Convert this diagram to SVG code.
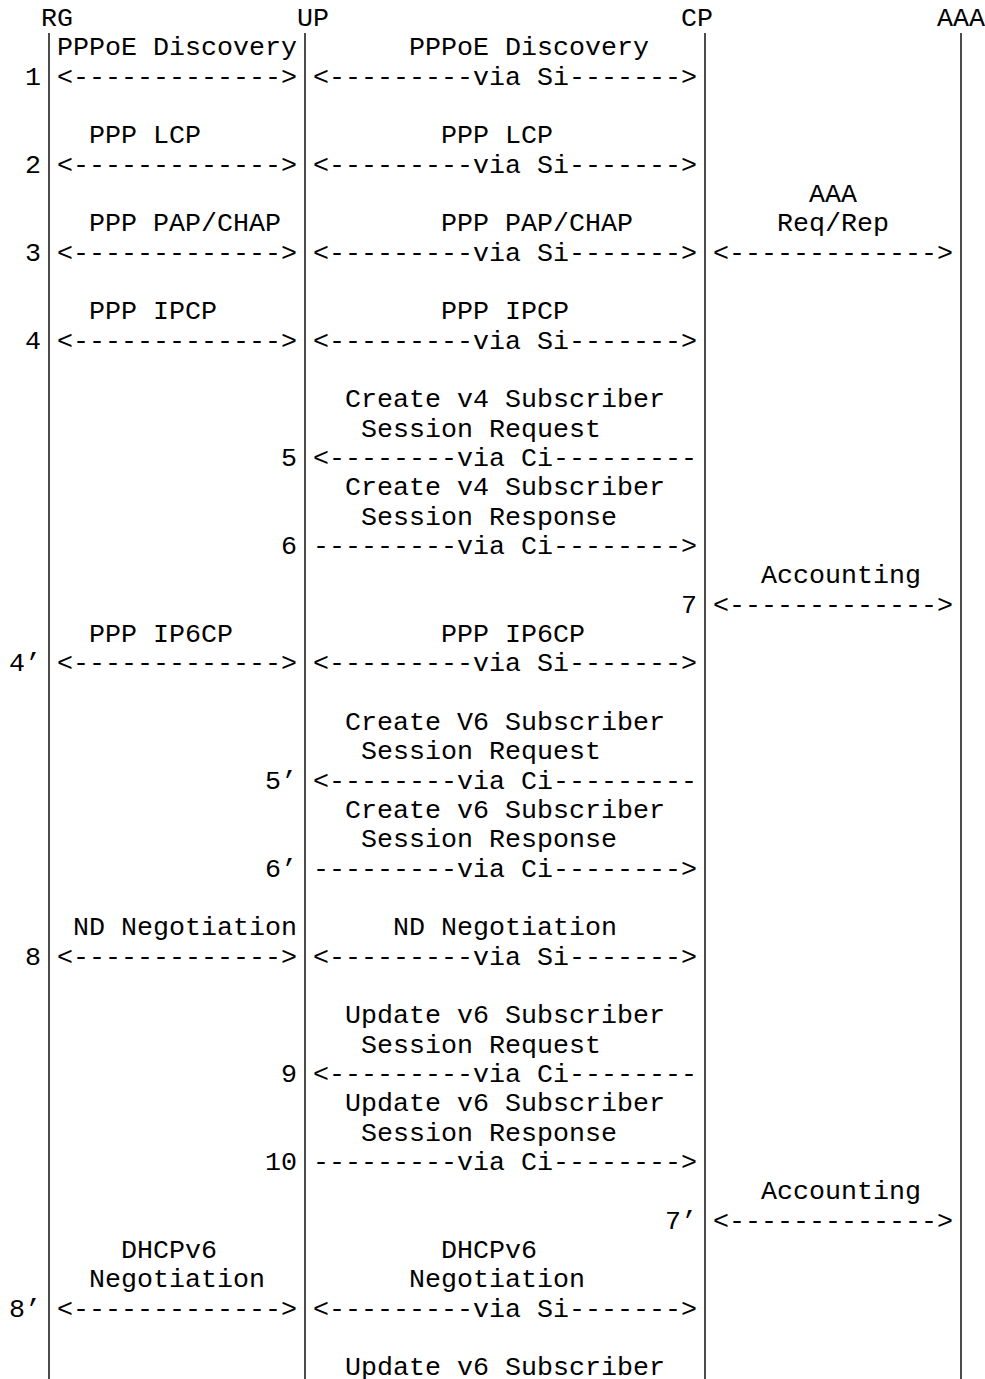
<svg xmlns="http://www.w3.org/2000/svg" width="985" height="1379" viewBox="0 0 985 1379" xml:space="preserve">
<style>
text { font-family: "Liberation Mono", "Courier New", monospace; font-size: 26.67px; fill: #000; white-space: pre; }
.life { stroke: #000; stroke-width: 1.4; fill: none; }
</style>
<rect x="0" y="0" width="985" height="1379" fill="#fff"/>
<g id="RG">
  <text x="41" y="26">RG</text>
  <line class="life" x1="49" y1="33" x2="49" y2="1379"/>
</g>
<g id="UP">
  <text x="297" y="26">UP</text>
  <line class="life" x1="305" y1="33" x2="305" y2="1379"/>
</g>
<g id="CP">
  <text x="681" y="26">CP</text>
  <line class="life" x1="705" y1="33" x2="705" y2="1379"/>
</g>
<g id="AAA">
  <text x="937" y="26">AAA</text>
  <line class="life" x1="961" y1="33" x2="961" y2="1379"/>
</g>
<g id="connectors">
  <text x="57" y="84.67">&lt;-------------&gt;</text>
  <text x="313" y="84.67">&lt;---------via Si-------&gt;</text>
  <text x="57" y="172.67">&lt;-------------&gt;</text>
  <text x="313" y="172.67">&lt;---------via Si-------&gt;</text>
  <text x="57" y="260.67">&lt;-------------&gt;</text>
  <text x="313" y="260.67">&lt;---------via Si-------&gt;</text>
  <text x="713" y="260.67">&lt;-------------&gt;</text>
  <text x="57" y="348.67">&lt;-------------&gt;</text>
  <text x="313" y="348.67">&lt;---------via Si-------&gt;</text>
  <text x="313" y="466">&lt;--------via Ci---------</text>
  <text x="313" y="554">---------via Ci--------&gt;</text>
  <text x="713" y="612.67">&lt;-------------&gt;</text>
  <text x="57" y="671.33">&lt;-------------&gt;</text>
  <text x="313" y="671.33">&lt;---------via Si-------&gt;</text>
  <text x="313" y="788.67">&lt;--------via Ci---------</text>
  <text x="313" y="876.67">---------via Ci--------&gt;</text>
  <text x="57" y="964.67">&lt;-------------&gt;</text>
  <text x="313" y="964.67">&lt;---------via Si-------&gt;</text>
  <text x="313" y="1082">&lt;---------via Ci--------</text>
  <text x="313" y="1170">---------via Ci--------&gt;</text>
  <text x="713" y="1228.67">&lt;-------------&gt;</text>
  <text x="57" y="1316.67">&lt;-------------&gt;</text>
  <text x="313" y="1316.67">&lt;---------via Si-------&gt;</text>
</g>
<g id="steps">
  <text x="25" y="84.67">1</text>
  <text x="25" y="172.67">2</text>
  <text x="25" y="260.67">3</text>
  <text x="25" y="348.67">4</text>
  <text x="281" y="466">5</text>
  <text x="281" y="554">6</text>
  <text x="681" y="612.67">7</text>
  <text x="9" y="671.33">4’</text>
  <text x="265" y="788.67">5’</text>
  <text x="265" y="876.67">6’</text>
  <text x="25" y="964.67">8</text>
  <text x="281" y="1082">9</text>
  <text x="265" y="1170">10</text>
  <text x="665" y="1228.67">7’</text>
  <text x="9" y="1316.67">8’</text>
</g>
<g id="labels">
  <text x="57" y="55.33">PPPoE Discovery</text>
  <text x="409" y="55.33">PPPoE Discovery</text>
  <text x="89" y="143.33">PPP LCP</text>
  <text x="441" y="143.33">PPP LCP</text>
  <text x="809" y="202">AAA</text>
  <text x="89" y="231.33">PPP PAP/CHAP</text>
  <text x="441" y="231.33">PPP PAP/CHAP</text>
  <text x="777" y="231.33">Req/Rep</text>
  <text x="89" y="319.33">PPP IPCP</text>
  <text x="441" y="319.33">PPP IPCP</text>
  <text x="345" y="407.33">Create v4 Subscriber</text>
  <text x="361" y="436.67">Session Request</text>
  <text x="345" y="495.33">Create v4 Subscriber</text>
  <text x="361" y="524.67">Session Response</text>
  <text x="761" y="583.33">Accounting</text>
  <text x="89" y="642">PPP IP6CP</text>
  <text x="441" y="642">PPP IP6CP</text>
  <text x="345" y="730">Create V6 Subscriber</text>
  <text x="361" y="759.33">Session Request</text>
  <text x="345" y="818">Create v6 Subscriber</text>
  <text x="361" y="847.33">Session Response</text>
  <text x="73" y="935.33">ND Negotiation</text>
  <text x="393" y="935.33">ND Negotiation</text>
  <text x="345" y="1023.33">Update v6 Subscriber</text>
  <text x="361" y="1052.67">Session Request</text>
  <text x="345" y="1111.33">Update v6 Subscriber</text>
  <text x="361" y="1140.67">Session Response</text>
  <text x="761" y="1199.33">Accounting</text>
  <text x="121" y="1258">DHCPv6</text>
  <text x="441" y="1258">DHCPv6</text>
  <text x="89" y="1287.33">Negotiation</text>
  <text x="409" y="1287.33">Negotiation</text>
  <text x="345" y="1375.33">Update v6 Subscriber</text>
</g>
</svg>
